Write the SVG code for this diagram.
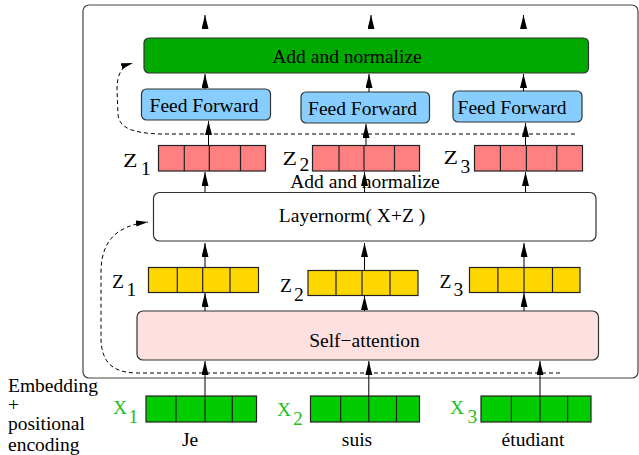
<svg xmlns="http://www.w3.org/2000/svg" width="639" height="455" viewBox="0 0 639 455">
  <defs>
    <style>
      text { font-family: "Liberation Serif", "Times New Roman", serif; font-size: 19.5px; fill: #000; }
      .mid { text-anchor: middle; }
      .box { stroke: #333; stroke-width: 1.2; }
      .cell { stroke: #222; stroke-width: 1.2; }
      .red { fill: #ff8080; }
      .yel { fill: #ffd700; }
      .grn { fill: #00cc00; }
      .xlab { fill: #22c022; }
      .arr { stroke: #000; stroke-width: 1; fill: none; marker-end: url(#ah); }
      .dash { stroke: #000; stroke-width: 1; fill: none; stroke-dasharray: 4 3; marker-end: url(#ahs); }
    </style>
    <marker id="ah" markerUnits="userSpaceOnUse" markerWidth="14" markerHeight="8" refX="14" refY="3.5" orient="auto">
      <path d="M0,0 L14,3.5 L0,7 z" fill="#000"/>
    </marker>
    <marker id="ahs" markerUnits="userSpaceOnUse" markerWidth="12" markerHeight="7" refX="12" refY="3" orient="auto">
      <path d="M0,0 L12,3 L0,6 z" fill="#000"/>
    </marker>
  </defs>

  <!-- encoder frame -->
  <rect id="frame" x="83" y="5" width="555" height="373" rx="6" fill="none" stroke="#444" stroke-width="1.2"/>

  <!-- add & normalize (top) -->
  <g id="addnorm-top">
    <rect class="box" x="144" y="38" width="444.5" height="35" rx="5" fill="#00aa00"/>
    <text class="mid" x="347" y="63">Add and normalize</text>
  </g>

  <!-- feed forward blocks -->
  <g id="ff1">
    <rect class="box" x="141.5" y="89" width="129" height="31" rx="5" fill="#87ceff"/>
    <text class="mid" x="204" y="111.5">Feed Forward</text>
  </g>
  <g id="ff2">
    <rect class="box" x="301" y="92" width="128.5" height="31" rx="5" fill="#87ceff"/>
    <text class="mid" x="362.5" y="114.5">Feed Forward</text>
  </g>
  <g id="ff3">
    <rect class="box" x="453" y="91" width="129" height="31" rx="5" fill="#87ceff"/>
    <text class="mid" x="512" y="114">Feed Forward</text>
  </g>

  <!-- z vectors after layernorm -->
  <g id="zr1">
    <rect class="cell red" x="158.5" y="145.5" width="107" height="25.5"/>
    <path class="cell" d="M184.3,145.5V171 M209.3,145.5V171 M240.5,145.5V171"/>
    <text x="123" y="167" textLength="14.5" lengthAdjust="spacingAndGlyphs">Z</text>
    <text x="141" y="175">1</text>
  </g>
  <g id="zr2">
    <rect class="cell red" x="312.5" y="145.5" width="107" height="25.5"/>
    <path class="cell" d="M339,145.5V171 M364,145.5V171 M394.5,145.5V171"/>
    <text x="282.5" y="165" textLength="14.5" lengthAdjust="spacingAndGlyphs">Z</text>
    <text x="299.5" y="171">2</text>
  </g>
  <g id="zr3">
    <rect class="cell red" x="474.5" y="145.5" width="108" height="25.5"/>
    <path class="cell" d="M500.4,145.5V171 M526.4,145.5V171 M556.8,145.5V171"/>
    <text x="443.5" y="164" textLength="14.5" lengthAdjust="spacingAndGlyphs">Z</text>
    <text x="460.5" y="173">3</text>
  </g>

  <text id="addnorm-label" class="mid" x="365" y="187.5">Add and normalize</text>

  <!-- layernorm -->
  <g id="layernorm">
    <rect class="box" x="153.5" y="192.5" width="442.5" height="48.5" rx="6" fill="#fff"/>
    <text class="mid" x="352" y="222">Layernorm( X+Z )</text>
  </g>

  <!-- z vectors from self-attention -->
  <g id="zy1">
    <rect class="cell yel" x="148.5" y="267.5" width="110" height="25"/>
    <path class="cell" d="M177.3,267.5V292.5 M202.7,267.5V292.5 M230,267.5V292.5"/>
    <text x="112" y="288">Z</text>
    <text x="126.5" y="296">1</text>
  </g>
  <g id="zy2">
    <rect class="cell yel" x="308" y="270.5" width="110" height="25"/>
    <path class="cell" d="M336,270.5V295.5 M362,270.5V295.5 M390,270.5V295.5"/>
    <text x="280" y="292">Z</text>
    <text x="294" y="301">2</text>
  </g>
  <g id="zy3">
    <rect class="cell yel" x="469.5" y="267.5" width="110.5" height="25"/>
    <path class="cell" d="M497.9,267.5V292.5 M524,267.5V292.5 M552.5,267.5V292.5"/>
    <text x="439.5" y="288">Z</text>
    <text x="453.5" y="296">3</text>
  </g>

  <!-- self-attention -->
  <g id="selfattn">
    <rect class="box" x="137" y="311" width="461.5" height="49" rx="6" fill="#ffe0e0"/>
    <text class="mid" x="364.5" y="347">Self−attention</text>
  </g>

  <!-- input embeddings -->
  <g id="x1">
    <rect class="cell grn" x="146" y="396" width="110.5" height="26"/>
    <path class="cell" d="M176,396V422 M205,396V422 M232.3,396V422"/>
    <text class="xlab" x="113" y="414">X</text>
    <text class="xlab" x="128.5" y="423">1</text>
    <text class="mid" x="190" y="446">Je</text>
  </g>
  <g id="x2">
    <rect class="cell grn" x="310.5" y="396" width="109" height="26"/>
    <path class="cell" d="M340.7,396V422 M368.8,396V422 M396.5,396V422"/>
    <text class="xlab" x="277" y="416">X</text>
    <text class="xlab" x="293" y="425">2</text>
    <text class="mid" x="357" y="446">suis</text>
  </g>
  <g id="x3">
    <rect class="cell grn" x="481" y="396" width="110" height="26"/>
    <path class="cell" d="M511.4,396V422 M540,396V422 M567.6,396V422"/>
    <text class="xlab" x="450" y="414">X</text>
    <text class="xlab" x="467.5" y="423">3</text>
    <text class="mid" x="533" y="446">étudiant</text>
  </g>

  <g id="legend">
    <text x="8" y="392">Embedding</text>
    <text x="8" y="411">+</text>
    <text x="8" y="430">positional</text>
    <text x="8" y="451">encoding</text>
  </g>

  <!-- connectors -->
  <g id="connectors">
    <!-- outputs above the block -->
    <path class="arr" d="M205,29V15"/>
    <path class="arr" d="M371,29V15"/>
    <path class="arr" d="M523.5,29V15"/>
    <!-- feed forward to add & normalize -->
    <path class="arr" d="M205,89V74"/>
    <path class="arr" d="M369,92V74"/>
    <path class="arr" d="M523.5,91V74"/>
    <!-- z to feed forward -->
    <path class="arr" d="M208.5,145.5V121"/>
    <path class="arr" d="M366,145.5V124"/>
    <path class="arr" d="M525.5,145.5V123"/>
    <!-- layernorm to z -->
    <path class="arr" d="M205,192.5V172"/>
    <path class="arr" d="M364.5,192.5V172"/>
    <path class="arr" d="M525.5,192.5V172"/>
    <!-- z to layernorm -->
    <path class="arr" d="M205,267.5V243"/>
    <path class="arr" d="M364.5,270.5V243"/>
    <path class="arr" d="M524,267.5V243"/>
    <!-- self-attention to z -->
    <path class="arr" d="M205,311V293"/>
    <path class="arr" d="M364.5,311V296"/>
    <path class="arr" d="M524,311V293"/>
    <!-- embeddings to self-attention -->
    <path class="arr" d="M205,396V361"/>
    <path class="arr" d="M368.8,396V361"/>
    <path class="arr" d="M540,396V361"/>
    <!-- residual connections -->
    <path class="dash" d="M575,134 L160,134 C132,133 119,128 118,114 L117,90 C117,73 122,66 133,63"/>
    <path class="dash" d="M560,373 L135,373 C112,372 102,362 101,340 L101,270 C102,242 115,226 148,222"/>
  </g>
</svg>
